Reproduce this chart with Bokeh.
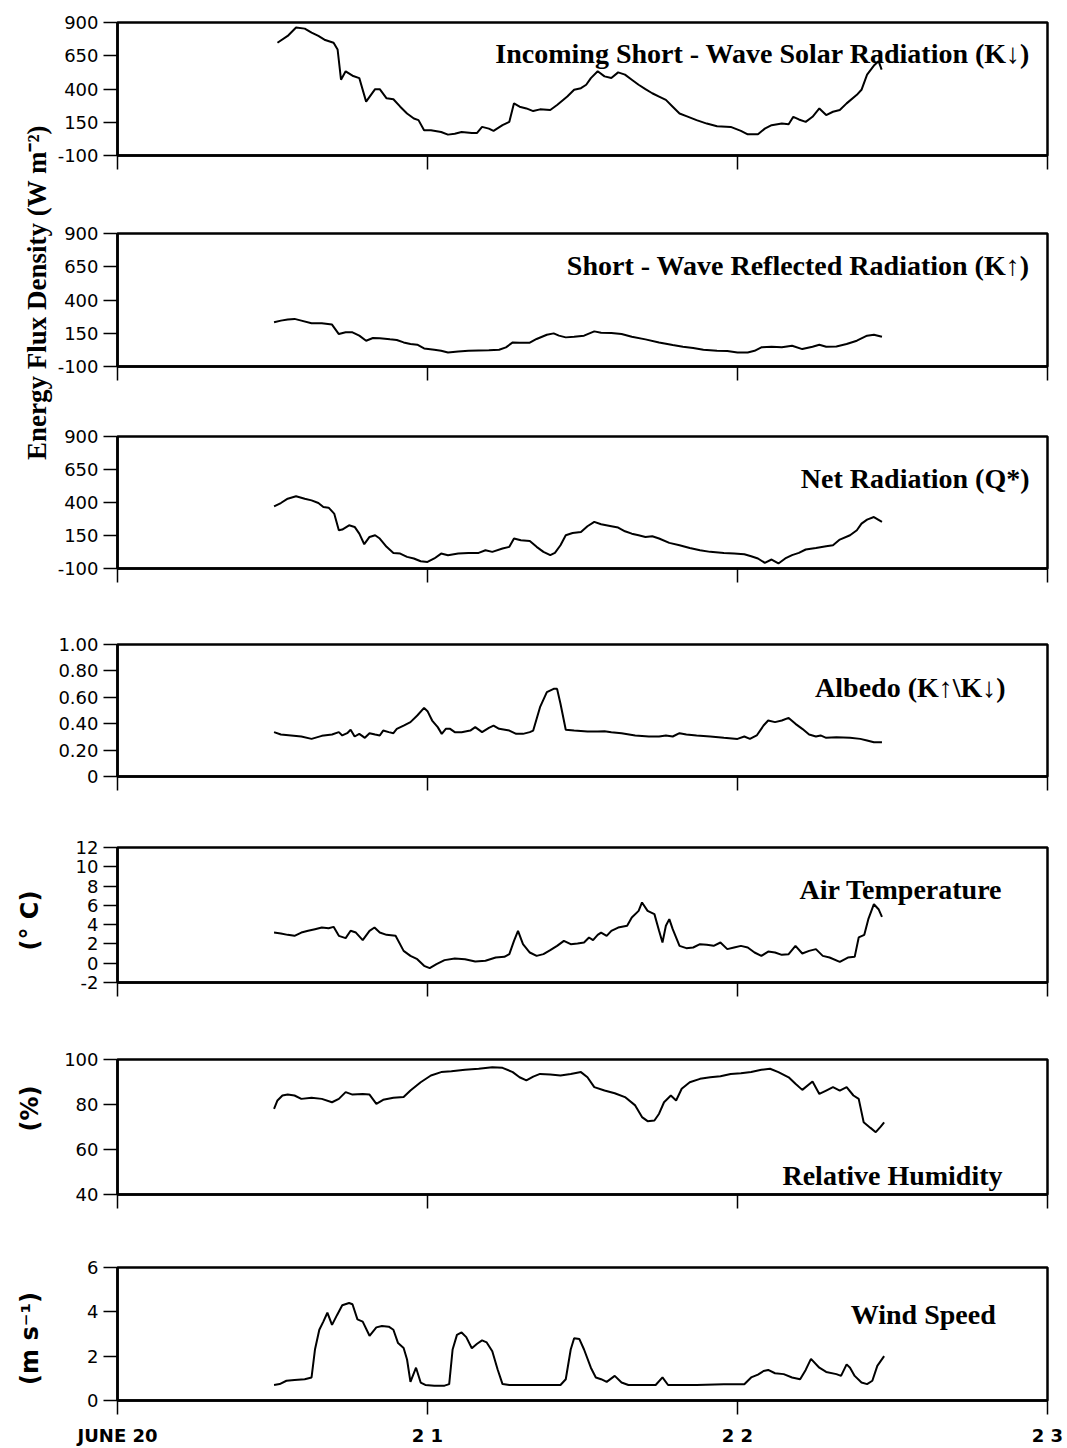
import math
from bokeh.plotting import figure
from bokeh.layouts import row, column
from bokeh.models import Range1d, FixedTicker, Label
from bokeh.embed import file_html
from bokeh.resources import INLINE

# ---------------- data (day of June, fractional) ----------------
kdown_day = [20.516, 20.549, 20.576, 20.604, 20.626, 20.648, 20.670, 20.697, 20.710, 20.721, 20.736, 20.758,
             20.780, 20.802, 20.831, 20.846, 20.868, 20.890, 20.912, 20.934, 20.956, 20.971, 20.989, 21.011,
             21.044, 21.066, 21.088, 21.110, 21.143, 21.160, 21.176, 21.198, 21.213, 21.242, 21.264, 21.279,
             21.297, 21.319, 21.341, 21.363, 21.396, 21.418, 21.451, 21.473, 21.495, 21.512, 21.527, 21.549,
             21.571, 21.593, 21.615, 21.637, 21.659, 21.681, 21.703, 21.725, 21.747, 21.769, 21.791, 21.813,
             21.835, 21.868, 21.901, 21.934, 21.978, 22.011, 22.033, 22.066, 22.088, 22.110, 22.143, 22.165,
             22.180, 22.198, 22.220, 22.242, 22.264, 22.286, 22.308, 22.330, 22.352, 22.385, 22.400, 22.418,
             22.440, 22.455, 22.465]
kdown = [748, 799, 862, 854, 824, 799, 768, 748, 697, 470, 533, 500,
         482, 305, 399, 399, 330, 323, 267, 216, 178, 166, 90, 90,
         77, 57, 64, 77, 70, 70, 115, 102, 85, 128, 153, 292,
         267, 254, 234, 247, 242, 280, 343, 394, 406, 432, 482, 533,
         495, 482, 525, 508, 470, 432, 399, 368, 343, 318, 267, 216,
         196, 166, 140, 120, 115, 85, 59, 59, 102, 128, 140, 135,
         191, 171, 153, 191, 254, 204, 229, 242, 292, 356, 394, 508,
         576, 609, 545]

kup_day = [20.505, 20.527, 20.549, 20.571, 20.593, 20.626, 20.659, 20.692, 20.714, 20.736, 20.758, 20.780,
           20.802, 20.824, 20.846, 20.879, 20.901, 20.923, 20.945, 20.967, 20.989, 21.022, 21.044, 21.066,
           21.099, 21.132, 21.165, 21.198, 21.231, 21.253, 21.275, 21.297, 21.330, 21.352, 21.385, 21.407,
           21.424, 21.446, 21.473, 21.505, 21.538, 21.560, 21.593, 21.626, 21.659, 21.703, 21.747, 21.791,
           21.824, 21.857, 21.890, 21.934, 21.967, 22.000, 22.033, 22.055, 22.077, 22.110, 22.143, 22.176,
           22.209, 22.242, 22.264, 22.286, 22.319, 22.352, 22.385, 22.418, 22.440, 22.466]
kup = [232, 245, 253, 258, 245, 225, 225, 215, 144, 157, 157, 132,
       94, 114, 112, 104, 99, 81, 69, 64, 36, 26, 18, 6,
       13, 18, 21, 23, 26, 44, 81, 79, 79, 107, 139, 149,
       132, 119, 124, 132, 164, 154, 152, 144, 124, 104, 81, 61,
       49, 39, 26, 18, 16, 6, 6, 18, 44, 49, 44, 56,
       31, 49, 64, 49, 51, 69, 94, 132, 139, 124]

qnet_day = [20.505, 20.527, 20.549, 20.576, 20.604, 20.626, 20.648, 20.664, 20.681, 20.699, 20.714, 20.725,
            20.747, 20.765, 20.780, 20.796, 20.813, 20.831, 20.846, 20.868, 20.890, 20.912, 20.934, 20.956,
            20.978, 21.000, 21.022, 21.044, 21.066, 21.099, 21.132, 21.165, 21.187, 21.209, 21.242, 21.264,
            21.279, 21.301, 21.330, 21.352, 21.374, 21.396, 21.411, 21.429, 21.446, 21.468, 21.495, 21.516,
            21.538, 21.560, 21.593, 21.615, 21.637, 21.659, 21.681, 21.703, 21.725, 21.747, 21.780, 21.813,
            21.846, 21.879, 21.912, 21.956, 21.989, 22.022, 22.044, 22.066, 22.088, 22.110, 22.132, 22.154,
            22.176, 22.198, 22.220, 22.253, 22.286, 22.308, 22.330, 22.363, 22.385, 22.400, 22.418, 22.440,
            22.466]
qnet = [371, 396, 429, 447, 429, 416, 396, 366, 361, 316, 190, 195,
        227, 215, 164, 84, 139, 152, 127, 64, 18, 13, -12, -24,
        -45, -50, -24, 13, 1, 13, 18, 18, 38, 26, 51, 64,
        127, 114, 109, 64, 26, 1, 18, 76, 152, 169, 177, 220,
        253, 235, 220, 210, 182, 164, 152, 139, 144, 127, 94, 76,
        56, 38, 26, 18, 13, 8, -7, -24, -57, -32, -62, -24,
        1, 18, 44, 56, 69, 76, 119, 152, 190, 240, 270, 290,
        253]

albedo_day = [20.505, 20.527, 20.560, 20.593, 20.626, 20.659, 20.692, 20.714, 20.725, 20.741, 20.752, 20.765,
              20.780, 20.798, 20.813, 20.831, 20.846, 20.857, 20.875, 20.890, 20.901, 20.923, 20.945, 20.967,
              20.989, 21.000, 21.015, 21.033, 21.046, 21.059, 21.073, 21.088, 21.110, 21.138, 21.154, 21.176,
              21.198, 21.213, 21.231, 21.264, 21.286, 21.308, 21.330, 21.341, 21.363, 21.385, 21.407, 21.418,
              21.429, 21.446, 21.473, 21.516, 21.549, 21.571, 21.593, 21.626, 21.670, 21.714, 21.747, 21.769,
              21.791, 21.813, 21.835, 21.868, 21.912, 21.956, 22.000, 22.022, 22.040, 22.062, 22.084, 22.099,
              22.121, 22.143, 22.165, 22.187, 22.209, 22.231, 22.253, 22.268, 22.286, 22.319, 22.363, 22.396,
              22.418, 22.440, 22.466]
albedo = [0.336, 0.318, 0.311, 0.303, 0.285, 0.308, 0.318, 0.336, 0.311, 0.328, 0.354, 0.303,
          0.323, 0.293, 0.328, 0.318, 0.311, 0.348, 0.336, 0.328, 0.361, 0.386, 0.412, 0.462,
          0.520, 0.495, 0.424, 0.374, 0.323, 0.361, 0.361, 0.336, 0.336, 0.348, 0.374, 0.336,
          0.369, 0.386, 0.361, 0.348, 0.323, 0.323, 0.336, 0.348, 0.525, 0.639, 0.664, 0.664,
          0.551, 0.354, 0.348, 0.341, 0.341, 0.343, 0.336, 0.328, 0.311, 0.303, 0.303, 0.311,
          0.303, 0.328, 0.318, 0.311, 0.303, 0.293, 0.285, 0.303, 0.285, 0.311, 0.386, 0.424,
          0.412, 0.424, 0.444, 0.399, 0.361, 0.318, 0.303, 0.311, 0.293, 0.298, 0.293, 0.285,
          0.273, 0.260, 0.260]

temp_day = [20.505, 20.527, 20.549, 20.571, 20.593, 20.615, 20.637, 20.659, 20.681, 20.697, 20.714, 20.736,
            20.752, 20.769, 20.791, 20.813, 20.829, 20.846, 20.868, 20.897, 20.923, 20.945, 20.967, 20.989,
            21.007, 21.029, 21.055, 21.088, 21.121, 21.154, 21.187, 21.220, 21.248, 21.264, 21.279, 21.292,
            21.308, 21.330, 21.352, 21.374, 21.396, 21.418, 21.440, 21.462, 21.484, 21.505, 21.521, 21.534,
            21.549, 21.560, 21.578, 21.593, 21.615, 21.644, 21.659, 21.681, 21.692, 21.710, 21.732, 21.747,
            21.758, 21.769, 21.780, 21.791, 21.813, 21.835, 21.857, 21.879, 21.901, 21.923, 21.945, 21.967,
            21.989, 22.011, 22.033, 22.055, 22.077, 22.099, 22.121, 22.143, 22.165, 22.187, 22.209, 22.231,
            22.253, 22.275, 22.297, 22.330, 22.356, 22.378, 22.391, 22.409, 22.422, 22.440, 22.455, 22.466]
temp = [3.18, 3.08, 2.94, 2.84, 3.18, 3.36, 3.53, 3.70, 3.63, 3.77, 2.84, 2.60,
        3.36, 3.18, 2.39, 3.36, 3.70, 3.18, 2.94, 2.84, 1.28, 0.76, 0.42, -0.27,
        -0.51, -0.10, 0.32, 0.49, 0.42, 0.18, 0.25, 0.59, 0.66, 0.94, 2.32, 3.36,
        1.97, 1.11, 0.76, 0.94, 1.35, 1.80, 2.32, 1.97, 2.04, 2.15, 2.67, 2.39,
        2.94, 3.18, 2.84, 3.36, 3.70, 3.88, 4.74, 5.43, 6.30, 5.43, 5.09, 3.36,
        2.15, 3.88, 4.57, 3.53, 1.80, 1.56, 1.63, 1.97, 1.91, 1.80, 2.15, 1.46,
        1.63, 1.80, 1.63, 1.11, 0.76, 1.21, 1.11, 0.87, 0.94, 1.80, 1.01, 1.28,
        1.46, 0.76, 0.59, 0.14, 0.59, 0.66, 2.67, 2.94, 4.57, 6.12, 5.60, 4.81]

rh_day = [20.505, 20.516, 20.532, 20.549, 20.571, 20.593, 20.626, 20.659, 20.692, 20.714, 20.736, 20.758,
          20.791, 20.813, 20.835, 20.857, 20.890, 20.923, 20.945, 20.978, 21.011, 21.044, 21.077, 21.121,
          21.165, 21.209, 21.242, 21.275, 21.297, 21.319, 21.341, 21.363, 21.396, 21.429, 21.462, 21.495,
          21.516, 21.538, 21.571, 21.604, 21.637, 21.670, 21.692, 21.710, 21.732, 21.747, 21.763, 21.785,
          21.802, 21.820, 21.846, 21.879, 21.912, 21.945, 21.978, 22.011, 22.044, 22.077, 22.105, 22.132,
          22.165, 22.187, 22.209, 22.242, 22.264, 22.286, 22.308, 22.330, 22.352, 22.374, 22.391, 22.407,
          22.429, 22.446, 22.462, 22.473]
rh = [78.1, 81.8, 84.0, 84.4, 84.0, 82.5, 83.0, 82.5, 81.0, 82.5, 85.5, 84.4,
      84.7, 84.4, 80.3, 82.1, 83.0, 83.3, 86.2, 89.9, 92.9, 94.4, 94.8, 95.4,
      95.9, 96.6, 96.3, 94.4, 92.1, 90.7, 92.4, 93.6, 93.3, 92.9, 93.6, 94.4,
      92.1, 87.7, 86.2, 85.0, 83.3, 79.6, 74.4, 72.6, 72.9, 75.9, 81.0, 84.0,
      81.8, 87.0, 89.9, 91.4, 92.1, 92.6, 93.6, 93.9, 94.4, 95.4, 95.9, 94.4,
      92.1, 89.2, 86.5, 90.2, 84.7, 86.2, 87.7, 86.2, 87.7, 84.0, 82.5, 72.1,
      69.6, 67.7, 70.2, 72.1]

wind_day = [20.505, 20.523, 20.545, 20.571, 20.604, 20.626, 20.637, 20.651, 20.664, 20.677, 20.692, 20.708,
            20.725, 20.747, 20.758, 20.774, 20.791, 20.813, 20.835, 20.853, 20.875, 20.890, 20.905, 20.923,
            20.934, 20.945, 20.963, 20.978, 20.993, 21.022, 21.055, 21.070, 21.081, 21.095, 21.110, 21.125,
            21.143, 21.160, 21.176, 21.191, 21.209, 21.226, 21.242, 21.264, 21.297, 21.363, 21.429, 21.446,
            21.462, 21.473, 21.490, 21.505, 21.527, 21.543, 21.560, 21.578, 21.604, 21.626, 21.648, 21.692,
            21.736, 21.758, 21.776, 21.802, 21.868, 21.956, 22.022, 22.044, 22.066, 22.084, 22.099, 22.121,
            22.149, 22.176, 22.202, 22.220, 22.237, 22.264, 22.286, 22.319, 22.334, 22.352, 22.363, 22.378,
            22.400, 22.418, 22.435, 22.451, 22.473]
wind = [0.70, 0.74, 0.89, 0.93, 0.96, 1.04, 2.30, 3.19, 3.56, 3.96, 3.41, 3.85,
        4.30, 4.40, 4.34, 3.66, 3.56, 2.92, 3.30, 3.36, 3.33, 3.19, 2.59, 2.37,
        1.85, 0.84, 1.48, 0.81, 0.70, 0.67, 0.67, 0.74, 2.30, 2.96, 3.07, 2.86,
        2.36, 2.56, 2.71, 2.62, 2.22, 1.41, 0.74, 0.70, 0.70, 0.70, 0.70, 0.96,
        2.30, 2.81, 2.77, 2.30, 1.48, 1.04, 0.96, 0.84, 1.11, 0.81, 0.70, 0.70,
        0.70, 1.04, 0.70, 0.70, 0.70, 0.73, 0.73, 1.04, 1.17, 1.33, 1.38, 1.23,
        1.19, 1.04, 0.96, 1.38, 1.88, 1.48, 1.29, 1.19, 1.11, 1.63, 1.48, 1.11,
        0.81, 0.74, 0.89, 1.56, 2.00]

# ---------------- texts / ticks ----------------
x_ticks = [20, 21, 22, 23]
x_tick_labels = ["JUNE 20", "2 1", "2 2", "2 3"]
flux_ticks = [-100, 150, 400, 650, 900]
flux_labels = ["-100", "150", "400", "650", "900"]
albedo_ticks = [0, 0.2, 0.4, 0.6, 0.8, 1.0]
albedo_labels = ["0", "0.20", "0.40", "0.60", "0.80", "1.00"]
temp_ticks = [-2, 0, 2, 4, 6, 8, 10, 12]
temp_labels = ["-2", "0", "2", "4", "6", "8", "10", "12"]
rh_ticks = [40, 60, 80, 100]
rh_labels = ["40", "60", "80", "100"]
wind_ticks = [0, 2, 4, 6]
wind_labels = ["0", "2", "4", "6"]

titles = ["Incoming Short - Wave Solar Radiation (K\u2193)",
          "Short - Wave Reflected Radiation (K\u2191)",
          "Net Radiation (Q*)",
          "Albedo (K\u2191\\K\u2193)",
          "Air Temperature",
          "Relative Humidity",
          "Wind Speed"]

TITLE_FONT = "Liberation Serif"
TICK_FONT = "DejaVu Sans"

LEFT_W = 54
PANEL_W = 1067 - LEFT_W

panels = [
    dict(x=kdown_day, y=kdown, yr=(-100, 900), ticks=flux_ticks, labels=flux_labels,
         h=194, top=22, bottom=39, tx=22.945, ty=667),
    dict(x=kup_day, y=kup, yr=(-100, 900), ticks=flux_ticks, labels=flux_labels,
         h=206, top=39, bottom=34, tx=22.942, ty=659),
    dict(x=qnet_day, y=qnet, yr=(-100, 900), ticks=flux_ticks, labels=flux_labels,
         h=206, top=36, bottom=38, tx=22.942, ty=582),
    dict(x=albedo_day, y=albedo, yr=(0, 1.0), ticks=albedo_ticks, labels=albedo_labels,
         h=206, top=38, bottom=36, tx=22.865, ty=0.674),
    dict(x=temp_day, y=temp, yr=(-2, 12), ticks=temp_ticks, labels=temp_labels,
         h=208, top=35, bottom=38, tx=22.855, ty=7.64),
    dict(x=rh_day, y=rh, yr=(40, 100), ticks=rh_ticks, labels=rh_labels,
         h=210, top=39, bottom=36, tx=22.855, ty=48.4),
    dict(x=wind_day, y=wind, yr=(0, 6), ticks=wind_ticks, labels=wind_labels,
         h=218, top=37, bottom=46, tx=22.833, ty=3.87),
]

figs = []
for i, sp in enumerate(panels):
    last = (i == len(panels) - 1)
    p = figure(width=PANEL_W, height=sp["h"], x_range=Range1d(20, 23),
               y_range=Range1d(*sp["yr"]), output_backend="svg", toolbar_location=None,
               min_border_left=62, min_border_right=20,
               min_border_top=sp["top"], min_border_bottom=sp["bottom"])
    p.grid.visible = False
    p.outline_line_color = "black"
    p.outline_line_width = 2.5
    p.background_fill_color = "white"
    p.border_fill_color = "white"

    xa = p.xaxis[0]
    xa.ticker = FixedTicker(ticks=x_ticks)
    xa.axis_line_width = 2.5
    xa.major_tick_out = 14
    xa.major_tick_in = 0
    xa.major_tick_line_width = 1.5
    xa.minor_tick_out = 0
    xa.minor_tick_in = 0
    if last:
        xa.major_label_overrides = dict(zip(x_ticks, x_tick_labels))
        xa.major_label_text_font = TICK_FONT
        xa.major_label_text_font_style = "bold"
        xa.major_label_text_font_size = "18px"
        xa.major_label_text_color = "black"
        xa.major_label_standoff = 10
    else:
        xa.major_label_overrides = {t: "" for t in x_ticks}
        xa.major_label_text_font_size = "1px"

    ya = p.yaxis[0]
    ya.ticker = FixedTicker(ticks=sp["ticks"])
    ya.major_label_overrides = dict(zip(sp["ticks"], sp["labels"]))
    ya.axis_line_width = 2.5
    ya.major_tick_out = 14
    ya.major_tick_in = 0
    ya.major_tick_line_width = 1.5
    ya.minor_tick_out = 0
    ya.minor_tick_in = 0
    ya.major_label_standoff = 5
    ya.major_label_text_font = TICK_FONT
    ya.major_label_text_font_size = "18px"
    ya.major_label_text_color = "black"

    p.line(sp["x"], sp["y"], line_color="black", line_width=2)

    p.add_layout(Label(x=sp["tx"], y=sp["ty"], text=titles[i], text_align="right",
                       text_baseline="alphabetic", text_font=TITLE_FONT,
                       text_font_style="bold", text_font_size="28px", text_color="black"))
    figs.append(p)

# ---------------- left column with the y-axis titles ----------------
lab = figure(width=LEFT_W, height=1448, x_range=Range1d(0, LEFT_W), y_range=Range1d(0, 1448),
             output_backend="svg", toolbar_location=None, min_border=0,
             x_axis_location=None, y_axis_location=None)
lab.grid.visible = False
lab.outline_line_color = None

ylabels = [
    ("Energy Flux Density (W m\u207B\u00B2)", 36, 1448 - 292, TITLE_FONT, "27px"),
    ("(\u00B0 C)", 29, 1448 - 920, TICK_FONT, "24px"),
    ("(%)", 29, 1448 - 1108, TICK_FONT, "24px"),
    ("(m s\u207B\u00B9)", 29, 1448 - 1338, TICK_FONT, "24px"),
]
for txt, lx, ly, fnt, fs in ylabels:
    lab.add_layout(Label(x=lx, y=ly, text=txt, angle=math.pi / 2, text_align="center",
                         text_baseline="middle", text_font=fnt, text_font_style="bold",
                         text_font_size=fs, text_color="black"))

layout = row(lab, column(*figs, spacing=0), spacing=0)

open("out.html", "w").write(file_html(layout, INLINE))
